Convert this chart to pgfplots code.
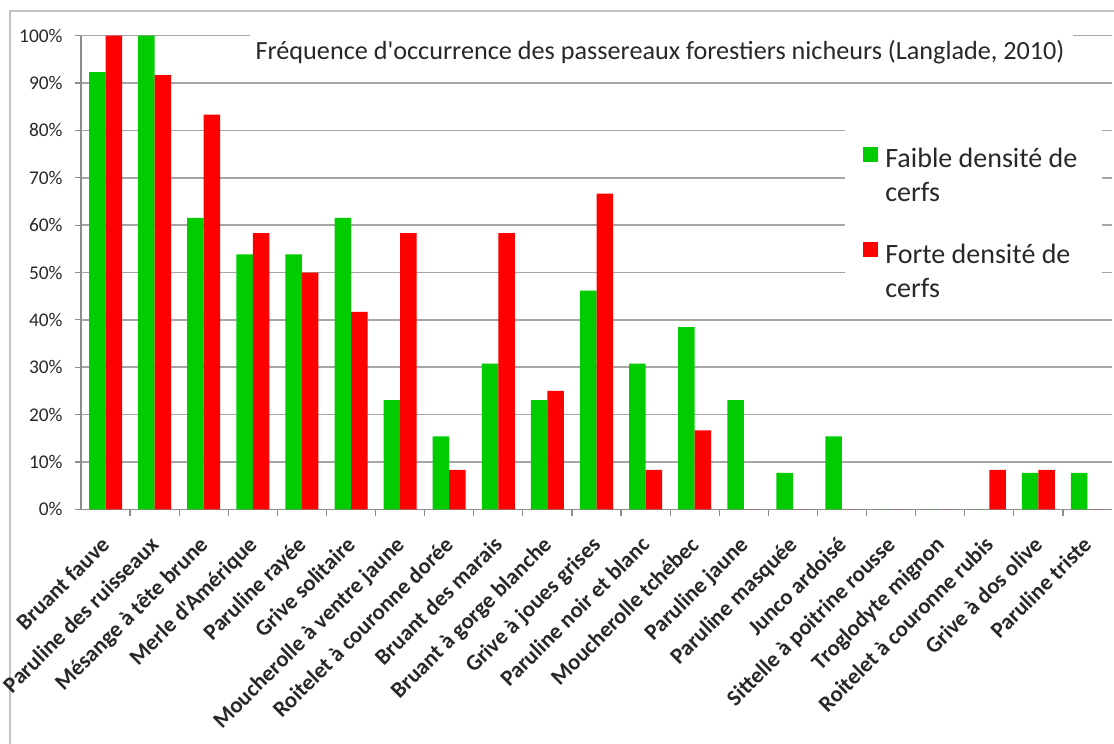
\documentclass[border=0pt]{standalone}
\usepackage{fontspec}
\setmainfont{Carlito}[Ligatures=TeXOff]
\usepackage{pgfplots}
\pgfplotsset{compat=1.18}

\definecolor{barGreen}{RGB}{0,204,0}
\definecolor{barRed}{RGB}{255,0,0}
\definecolor{gridGray}{RGB}{165,165,165}
\definecolor{axisGray}{RGB}{140,140,140}
\definecolor{frameGray}{RGB}{195,195,195}
\definecolor{txt}{RGB}{40,40,40}

% share of sampled stations where each species was heard (%)
\pgfplotstableread{
idx faible forte
0  92.31 100.00
1  100.00 91.67
2  61.54  83.33
3  53.85  58.33
4  53.85  50.00
5  61.54  41.67
6  23.08  58.33
7  15.38   8.33
8  30.77  58.33
9  23.08  25.00
10 46.15  66.67
11 30.77   8.33
12 38.46  16.67
13 23.08   0.00
14  7.69   0.00
15 15.38   0.00
16  0.00   0.00
17  0.00   0.00
18  0.00   8.33
19  7.69   8.33
20  7.69   0.00
}\densites

\pgfplotsset{
  squareleg/.style={legend image code/.code={%
    \path[##1,draw=none] (0pt,7.3pt) rectangle (7.5pt,14.8pt);}},
}

\begin{document}
\begin{tikzpicture}
\useasboundingbox (0,0) rectangle (557pt,-372pt);
\draw[frameGray, line width=1pt] (5pt,-372pt) -- (5pt,-5.5pt) -- (557pt,-5.5pt);

\begin{axis}[
  at={(40.5pt,-254.65pt)}, anchor=south west,
  scale only axis, width=515.5pt, height=236.8pt,
  xmin=-0.5, xmax=20.5, ymin=0, ymax=100,
  ybar=0pt, bar width=8.25pt,
  axis x line*=bottom, axis y line*=left,
  axis line style={axisGray, line width=0.6pt},
  ymajorgrids, grid style={gridGray, line width=0.75pt},
  ytick={0,10,...,100},
  yticklabel={\pgfmathprintnumber{\tick}\%},
  /pgf/number format/assume math mode=true,
  yticklabel style={font=\fontsize{9.7}{11}\selectfont, text=txt, inner sep=1pt, xshift=-5pt},
  tick align=outside, major tick length=3pt, minor tick length=3.5pt,
  tick style={axisGray, line width=0.6pt},
  xtick={0,...,20}, minor x tick num=1,
  major x tick style={draw=none},
  xticklabels={Bruant fauve, Paruline des ruisseaux, Mésange à tête brune,
    Merle d'Amérique, Paruline rayée, Grive solitaire,
    Moucherolle à ventre jaune, Roitelet à couronne dorée, Bruant des marais,
    Bruant à gorge blanche, Grive à joues grises, Paruline noir et blanc,
    Moucherolle tchébec, Paruline jaune, Paruline masquée, Junco ardoisé,
    Sittelle à poitrine rousse, Troglodyte mignon, Roitelet à couronne rubis,
    Grive à dos olive, Paruline triste},
  xticklabel style={font=\bfseries\fontsize{11.3}{13}\selectfont, text=txt,
    rotate=45, anchor=north east, inner sep=0pt, xshift=-8.9pt, yshift=-4.7pt},
  legend style={at={(rel axis cs:0.741,0.803)}, anchor=north west,
    draw=none, fill=white, inner xsep=9pt, inner ysep=7.5pt,
    font=\fontsize{14}{17}\selectfont, text=txt, row sep=15.5pt,
    nodes={align=left, inner xsep=3.5pt}},
  legend cell align=left,
]
\addplot[fill=barGreen, draw=none, squareleg] table[x=idx, y=faible] {\densites};
\addplot[fill=barRed, draw=none, squareleg] table[x=idx, y=forte] {\densites};
\legend{Faible densité de\\cerfs, Forte densité de\\cerfs}
\end{axis}

\fill[white] (125pt,-11.5pt) rectangle (536.5pt,-36pt);
\node[anchor=base, text=txt, font=\fontsize{13.1}{15}\selectfont, inner sep=0pt]
  at (330pt,-29.5pt) {Fréquence d'occurrence des passereaux forestiers nicheurs (Langlade, 2010)};
\end{tikzpicture}
\end{document}
